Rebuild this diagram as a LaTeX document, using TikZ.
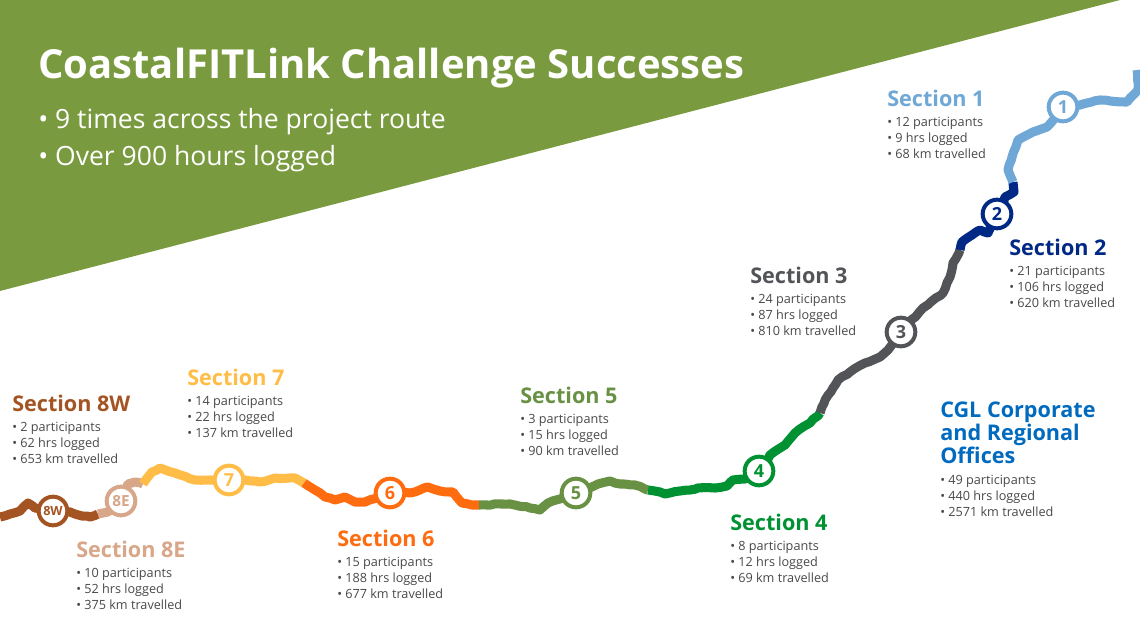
\documentclass[tikz,border=0pt]{standalone}
\usepackage{fontspec}
\setmainfont{Open Sans}
\usetikzlibrary{decorations.pathmorphing}
\definecolor{bannerGreen}{RGB}{122,154,63}
\definecolor{sec1col}{RGB}{111,168,214}
\definecolor{sec2col}{RGB}{0,40,133}
\definecolor{sec3col}{RGB}{83,84,88}
\definecolor{sec4col}{RGB}{0,146,50}
\definecolor{sec5col}{RGB}{104,145,68}
\definecolor{sec6col}{RGB}{255,107,15}
\definecolor{sec7col}{RGB}{255,189,71}
\definecolor{sec8ecol}{RGB}{216,166,136}
\definecolor{sec8wcol}{RGB}{163,84,34}
\definecolor{officecol}{RGB}{0,106,190}
\definecolor{bodycol}{RGB}{72,72,74}
\tikzset{
  routeline/.style={line width=6.8pt,line join=round,color=#1,decorate,decoration={random steps,segment length=4pt,amplitude=0.45pt}},
  stopmark/.style={circle,draw=#1,fill=white,line width=3pt,minimum size=21.5pt,inner sep=0pt,text=#1,font=\fontsize{13.5}{14}\selectfont\bfseries},
  headtext/.style={anchor=west,inner sep=0pt,text=#1,font=\fontsize{16.2}{18}\selectfont\bfseries,align=left},
  bodytext/.style={anchor=north west,inner sep=0pt,text=bodycol,font=\fontsize{9.5}{12}\selectfont,align=left}
}
\begin{document}
\begin{tikzpicture}[x=0.75pt,y=0.75pt,yscale=-1,xscale=1]
\useasboundingbox (0,0) rectangle (1140,641);

%Banner
\fill [bannerGreen] (0,0) -- (1120,0) -- (0,291) -- cycle ;

% Text Node
\node (title) [anchor=west,inner sep=0pt,text=white,font=\fontsize{30}{32}\selectfont\bfseries] at (38,68) {CoastalFITLink Challenge Successes};
\node (bullets) [anchor=north west,inner sep=0pt,text=white,font=\fontsize{19.9}{27.75}\selectfont,align=left] at (38,108) {• 9 times across the project route\\• Over 900 hours logged};

%Section ends
\coordinate (west) at (0,517);
\coordinate (b8w8e) at (98,514);
\coordinate (b8e7) at (143,484);
\coordinate (b76) at (304,483);
\coordinate (b65) at (479,505);
\coordinate (b54) at (648,490);
\coordinate (b43) at (820,413);
\coordinate (b32) at (960,250);
\coordinate (b21) at (1013,182);
\coordinate (east) at (1137,70);

%Stops
\path (53,511) coordinate (c8w) (121,501) coordinate (c8e) (229,480) coordinate (c7) (390,493) coordinate (c6)
 (576,493) coordinate (c5) (759,471) coordinate (c4) (901,332) coordinate (c3) (997,214) coordinate (c2) (1063,107) coordinate (c1);

%Route
\draw [routeline=sec8wcol] (west) -- (10,514) -- (20,511) -- (28,503) -- (35,508) -- (c8w) -- (70,512) -- (82,516) -- (90,517) -- (b8w8e);
\draw [routeline=sec8ecol] (b8w8e) -- (108,512) -- (c8e) -- (128,484) -- (135,482) -- (b8e7);
\draw [routeline=sec7col] (b8e7) -- (152,472) -- (160,468) -- (175,473) -- (195,480) -- (c7) -- (245,480) -- (260,482) -- (275,478) -- (295,478) -- (b76);
\draw [routeline=sec6col] (b76) -- (315,490) -- (325,497) -- (335,500) -- (345,497) -- (355,502) -- (365,502) -- (c6) -- (410,493) -- (428,487) -- (440,491) -- (453,492) -- (462,503) -- (472,505) -- (b65);
\draw [routeline=sec5col] (b65) -- (510,504) -- (530,508) -- (540,510) -- (548,503) -- (560,499) -- (c5) -- (598,484) -- (610,481) -- (620,484) -- (635,485) -- (b54);
\draw [routeline=sec4col] (b54) -- (660,492) -- (665,494) -- (680,491) -- (690,490) -- (698,488) -- (715,488) -- (727,486) -- (733,480) -- (745,479) -- (c4) -- (770,455) -- (785,445) -- (795,433) -- (810,423) -- (b43);
\draw [routeline=sec3col] (b43) -- (825,400) -- (833,388) -- (838,380) -- (850,372) -- (865,363) -- (880,357) -- (888,350) -- (c3) -- (923,308) -- (943,293) -- (950,277) -- (953,263) -- (b32);
\draw [routeline=sec2col] (b32) -- (962,242) -- (972,235) -- (980,230) -- (988,233) -- (c2) -- (1005,197) -- (1014,192) -- (b21);
\draw [routeline=sec1col] (b21) -- (1008,170) -- (1012,157) -- (1018,140) -- (1033,132) -- (1047,127) -- (c1) -- (1080,105) -- (1100,100) -- (1127,102) -- (1138,90) -- (east);

\node (stop8w) [stopmark=sec8wcol,font=\fontsize{9.5}{12}\selectfont\bfseries] at (c8w) {8W};
\node (stop8e) [stopmark=sec8ecol,font=\fontsize{11.5}{12}\selectfont\bfseries] at (c8e) {8E};
\node (stop7) [stopmark=sec7col] at (c7) {7};
\node (stop6) [stopmark=sec6col] at (c6) {6};
\node (stop5) [stopmark=sec5col] at (c5) {5};
\node (stop4) [stopmark=sec4col] at (c4) {4};
\node (stop3) [stopmark=sec3col] at (c3) {3};
\node (stop2) [stopmark=sec2col] at (c2) {2};
\node (stop1) [stopmark=sec1col] at (c1) {1};

% Text Node
\node (head1) [headtext=sec1col] at (887,98) {Section 1};
\node (body1) [bodytext] at (887,117) {• 12 participants\\• 9 hrs logged\\• 68 km travelled};
\node (head2) [headtext=sec2col] at (1009,247) {Section 2};
\node (body2) [bodytext] at (1009,266) {• 21 participants\\• 106 hrs logged\\• 620 km travelled};
\node (head3) [headtext=sec3col] at (750,275) {Section 3};
\node (body3) [bodytext] at (750,294) {• 24 participants\\• 87 hrs logged\\• 810 km travelled};
\node (head4) [headtext=sec4col] at (730,522) {Section 4};
\node (body4) [bodytext] at (730,541) {• 8 participants\\• 12 hrs logged\\• 69 km travelled};
\node (head5) [headtext=sec5col] at (520,395) {Section 5};
\node (body5) [bodytext] at (520,414) {• 3 participants\\• 15 hrs logged\\• 90 km travelled};
\node (head6) [headtext=sec6col] at (337,538) {Section 6};
\node (body6) [bodytext] at (337,557) {• 15 participants\\• 188 hrs logged\\• 677 km travelled};
\node (head7) [headtext=sec7col] at (187,377) {Section 7};
\node (body7) [bodytext] at (187,396) {• 14 participants\\• 22 hrs logged\\• 137 km travelled};
\node (head8e) [headtext=sec8ecol] at (76,549) {Section 8E};
\node (body8e) [bodytext] at (76,568) {• 10 participants\\• 52 hrs logged\\• 375 km travelled};
\node (head8w) [headtext=sec8wcol] at (12,403) {Section 8W};
\node (body8w) [bodytext] at (12,422) {• 2 participants\\• 62 hrs logged\\• 653 km travelled};
\node (headcgl) [headtext=officecol,anchor=north west,font=\fontsize{16.2}{17.25}\selectfont\bfseries] at (940,402) {CGL Corporate\\and Regional\\Offices};
\node (bodycgl) [bodytext] at (940,475) {• 49 participants\\• 440 hrs logged\\• 2571 km travelled};

\end{tikzpicture}
\end{document}
